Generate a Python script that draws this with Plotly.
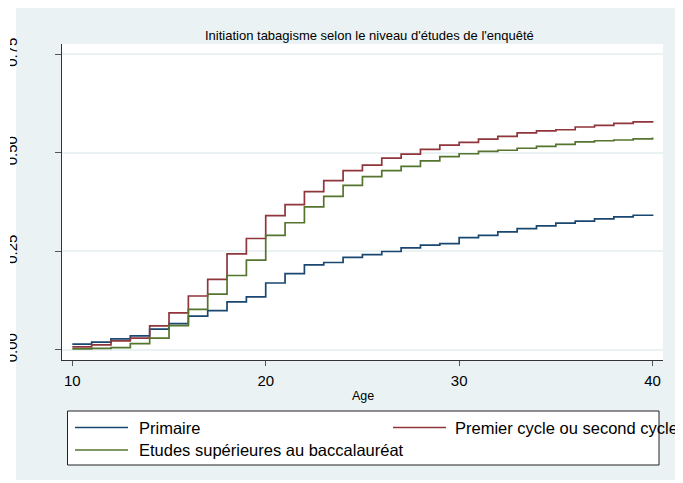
import plotly.graph_objects as go

ages = list(range(10, 41))

primaire = [0.015, 0.020, 0.028, 0.036, 0.053, 0.067, 0.086, 0.100, 0.122, 0.135,
            0.170, 0.194, 0.216, 0.222, 0.235, 0.242, 0.250, 0.259, 0.266, 0.270,
            0.285, 0.291, 0.300, 0.308, 0.315, 0.322, 0.327, 0.333, 0.338, 0.342,
            0.344]
premier_cycle = [0.008, 0.013, 0.023, 0.030, 0.061, 0.094, 0.137, 0.179, 0.244, 0.283,
                 0.341, 0.369, 0.402, 0.430, 0.455, 0.469, 0.487, 0.497, 0.509, 0.520,
                 0.527, 0.535, 0.542, 0.551, 0.556, 0.559, 0.566, 0.570, 0.575, 0.579,
                 0.581]
etudes_sup = [0.003, 0.004, 0.006, 0.016, 0.030, 0.062, 0.103, 0.142, 0.189, 0.228,
              0.291, 0.323, 0.363, 0.390, 0.418, 0.440, 0.455, 0.466, 0.480, 0.491,
              0.498, 0.504, 0.507, 0.512, 0.517, 0.522, 0.528, 0.531, 0.533, 0.536,
              0.539]

series_names = ["Primaire", "Premier cycle ou second cycle",
                "Etudes supérieures au baccalauréat"]
colors = ["#1a476f", "#90353b", "#55752f"]
y_ticks = [0, 0.25, 0.5, 0.75]
y_tick_text = ["0.00", "0.25", "0.50", "0.75"]
x_ticks = [10, 20, 30, 40]

# page body has an 8px margin, so work in screen pixels and shift back
OFF = 8
L, R, T, B = 62 - OFF, 663 - OFF, 44 - OFF, 360 - OFF
W, H = R - L, B - T


def px(x):
    return (x - OFF - L) / W


def py(y):
    return (B - (y - OFF)) / H


font = "Liberation Sans, Arial, sans-serif"
panel = "#eaf2f3"

fig = go.Figure()
for name, vals, col in zip(series_names, [primaire, premier_cycle, etudes_sup], colors):
    fig.add_trace(go.Scatter(x=ages, y=vals, mode="lines", name=name,
                             line=dict(color=col, width=1.7, shape="hv"),
                             showlegend=False))

shapes = [
    # stata grey-blue background panel
    dict(type="rect", xref="paper", yref="paper", x0=px(16), x1=px(680),
         y0=py(480), y1=py(8), fillcolor=panel, line_width=0, layer="below"),
    dict(type="rect", xref="paper", yref="paper", x0=0, x1=1, y0=0, y1=1,
         fillcolor="white", line_width=0, layer="below"),
    # the cropped y labels
    dict(type="rect", xref="paper", yref="paper", x0=px(0), x1=px(10),
         y0=py(490), y1=py(0), fillcolor="white", line_width=0, layer="above"),
    # legend box
    dict(type="rect", xref="paper", yref="paper", x0=px(67.5), x1=px(659),
         y0=py(465), y1=py(411), fillcolor="white",
         line=dict(color="#222", width=1), layer="below"),
]

legend_pos = [(75, 128, 136.5, 427.5), (393, 446, 453, 427.5), (75, 128, 136.5, 450)]
annotations = []
for (lx0, lx1, tx, ly), name, col in zip(legend_pos, series_names, colors):
    shapes.append(dict(type="line", xref="paper", yref="paper", x0=px(lx0), x1=px(lx1),
                       y0=py(ly), y1=py(ly), line=dict(color=col, width=1.7)))
    annotations.append(dict(text=name, xref="paper", yref="paper", x=px(tx), y=py(ly),
                            xanchor="left", yanchor="middle", showarrow=False,
                            font=dict(size=16.5, color="black", family=font)))

annotations.append(dict(text="Initiation tabagisme selon le niveau d'études de l'enquêté",
                        xref="paper", yref="paper", x=px(369.5), y=py(35),
                        xanchor="center", yanchor="middle", showarrow=False,
                        font=dict(size=13, color="black", family=font)))
annotations.append(dict(text="Age", xref="paper", yref="paper", x=px(363), y=py(396),
                        xanchor="center", yanchor="middle", showarrow=False,
                        font=dict(size=12.5, color="black", family=font)))

fig.update_layout(
    width=683, height=483,
    margin=dict(l=L, r=683 - R, t=T, b=483 - B),
    paper_bgcolor="white", plot_bgcolor="white",
    font=dict(family=font, color="black"),
    shapes=shapes, annotations=annotations,
    xaxis=dict(range=[9.467, 40.54], tickvals=x_ticks, showgrid=False, zeroline=False,
               showline=True, linecolor="#333", linewidth=1.2,
               ticks="outside", ticklen=5, tickwidth=1.3, tickcolor="#555",
               tickfont=dict(size=15, color="black"), ticklabelstandoff=2,
               automargin=False),
    yaxis=dict(range=[-0.0254, 0.7766], tickvals=y_ticks, ticktext=y_tick_text,
               tickangle=-90, showgrid=True, gridcolor=panel, gridwidth=1.5,
               zeroline=False, showline=True, linecolor="#333", linewidth=1.2,
               ticks="outside", ticklen=6, tickwidth=1.3, tickcolor="#555",
               tickfont=dict(size=15, color="black"), ticklabelstandoff=32,
               automargin=False),
)

fig.write_html("out.html")
